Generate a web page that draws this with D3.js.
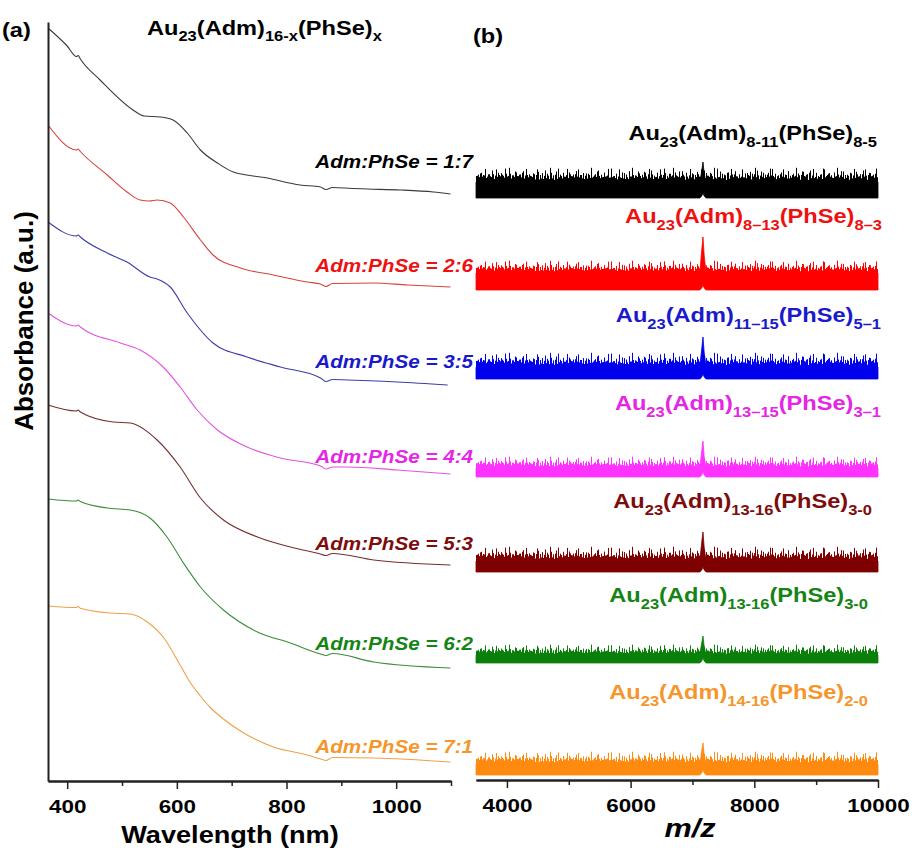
<!DOCTYPE html>
<html>
<head>
<meta charset="utf-8">
<script src="https://cdn.jsdelivr.net/npm/d3@7"></script>
<style>
body { margin: 0; background: #fff; }
text { font-family: "Liberation Sans", Arial, sans-serif; font-weight: bold; }
</style>
</head>
<body>
<div id="chart"></div>
<script>
// ---- data: UV-vis spectra (stacked absorbance, a.u.) ----
var ratioLabels = ["1:7", "2:6", "3:5", "4:4", "5:3", "6:2", "7:1"];

var uvBlack = [[365,7.53],[400,7.35],[417,7.245],[420,7.255],[424,7.22],[460,7.01],[520,6.71],[540,6.65],[570,6.64],[593,6.61],[619,6.48],[643,6.31],[674,6.18],[703,6.09],[765,6.03],[825,5.96],[862,5.94],[872,5.915],[884,5.935],[920,5.925],[948,5.92],[1008,5.91],[1068,5.89],[1099,5.87]];
var uvRed = [[365,6.56],[417,6.31],[420,6.32],[424,6.295],[473,6.06],[509,5.89],[533,5.81],[550,5.80],[564,5.81],[588,5.78],[612,5.64],[643,5.41],[666,5.26],[716,5.13],[776,5.06],[838,4.99],[862,4.97],[872,4.945],[884,4.975],[959,4.98],[1021,4.96],[1099,4.94]];
var uvBlue = [[365,5.59],[417,5.45],[420,5.46],[424,5.44],[473,5.28],[509,5.19],[551,5.04],[564,5.02],[588,4.94],[619,4.68],[666,4.38],[728,4.24],[789,4.14],[862,4.03],[872,3.995],[884,4.015],[911,4.01],[1002,3.99],[1094,3.96]];
var uvMagenta = [[365,4.68],[417,4.55],[420,4.56],[424,4.54],[497,4.38],[533,4.31],[575,4.14],[606,3.94],[637,3.71],[674,3.51],[728,3.34],[789,3.23],[862,3.15],[872,3.12],[884,3.14],[911,3.14],[1002,3.11],[1099,3.07]];
var uvMaroon = [[365,3.76],[417,3.70],[420,3.71],[424,3.69],[484,3.59],[515,3.58],[564,3.41],[606,3.14],[643,2.83],[685,2.61],[747,2.44],[807,2.34],[862,2.27],[872,2.255],[884,2.275],[959,2.21],[1099,2.16]];
var uvGreen = [[365,2.82],[417,2.80],[420,2.81],[424,2.795],[473,2.73],[515,2.71],[551,2.63],[582,2.44],[612,2.18],[643,1.94],[685,1.71],[747,1.49],[807,1.38],[862,1.27],[872,1.255],[884,1.275],[959,1.19],[1099,1.13]];
var uvOrange = [[365,1.75],[417,1.735],[420,1.745],[424,1.728],[478,1.68],[515,1.67],[546,1.59],[575,1.44],[606,1.16],[625,0.98],[643,0.85],[660,0.74],[685,0.62],[716,0.50],[776,0.34],[838,0.26],[862,0.22],[872,0.205],[884,0.235],[959,0.23],[1099,0.19]];

// ---- data: mass spectra ----
var msLabels = [
  [["Au",0],["23",1],["(Adm)",0],["8-11",1],["(PhSe)",0],["8-5",1]],
  [["Au",0],["23",1],["(Adm)",0],["8\u201313",1],["(PhSe)",0],["8\u20133",1]],
  [["Au",0],["23",1],["(Adm)",0],["11\u201315",1],["(PhSe)",0],["5\u20131",1]],
  [["Au",0],["23",1],["(Adm)",0],["13\u201315",1],["(PhSe)",0],["3\u20131",1]],
  [["Au",0],["23",1],["(Adm)",0],["13-16",1],["(PhSe)",0],["3-0",1]],
  [["Au",0],["23",1],["(Adm)",0],["13-16",1],["(PhSe)",0],["3-0",1]],
  [["Au",0],["23",1],["(Adm)",0],["14-16",1],["(PhSe)",0],["2-0",1]]
];
var titleParts = [["Au",0],["23",1],["(Adm)",0],["16-x",1],["(PhSe)",0],["x",1]];

var msMz = [3500, 7120, 7150, 7170, 7190, 7220, 10000];
var msBase = [5.82, 4.90, 4.01, 3.03, 2.08, 1.17, 0.05];
var msBottomRel = [0, 0, 0.02, 0.05, 0.02, 0, 0];
var msBlackTop = [0.16, 0.16, 0.27, 0.36, 0.24, 0.16, 0.16];
var msRedTop = [0.17, 0.18, 0.40, 0.53, 0.34, 0.17, 0.17];
var msBlueTop = [0.12, 0.13, 0.30, 0.42, 0.26, 0.12, 0.12];
var msMagentaTop = [0.09, 0.10, 0.26, 0.36, 0.20, 0.09, 0.09];
var msMaroonTop = [0.11, 0.12, 0.30, 0.40, 0.24, 0.11, 0.11];
var msGreenTop = [0.08, 0.09, 0.20, 0.27, 0.16, 0.08, 0.08];
var msOrangeTop = [0.11, 0.11, 0.24, 0.32, 0.20, 0.11, 0.11];
var msSpikeTop = [0.31, 0.30, 0.27, 0.21, 0.26, 0.19, 0.24];

var wlTicks = [400, 600, 800, 1000];
var wlMinor = [500, 700, 900, 1100];
var mzTicks = [4000, 6000, 8000, 10000];
var mzMinor = [5000, 7000, 9000];

// ---- styles ----
var uvColors = ["#3a3a3a", "#d9413b", "#3d3dab", "#e055e0", "#74302e", "#3c8c3c", "#f0a04a"];
var labelColors = ["#000000", "#ee1111", "#1a1acc", "#e526e5", "#7d0c0c", "#148414", "#f6962a"];
var msColors = ["#000000", "#ff0000", "#0000ee", "#ff33ff", "#7f0000", "#0a800a", "#ff8a10"];
var SX = 1.18; // horizontal text stretch of the original figure

// two hand-set stripe textures with different periods, overlaid to fake detector noise
var texA = [0.30,0.55,0.22,0.40,0.85,0.35,0.18,0.50,0.28,0.62,0.25,0.45,0.33,0.15,0.58,0.40,0.24,0.95,0.34,0.28,0.48,0.20,0.38,0.72,0.26,0.44,0.30,0.52,0.36,0.19,0.64,0.40,0.25,0.47,0.88,0.31,0.35,0.54,0.23,0.42,0.37];
var texB = [0.45,0.20,0.35,0.60,0.28,0.15,0.50,0.32,0.70,0.22,0.40,0.26,0.55,0.18,0.34,0.78,0.30,0.24,0.46,0.20,0.38,0.64,0.27,0.42,0.16,0.52,0.33,0.25,0.90,0.36,0.22,0.44,0.29,0.58,0.21,0.39,0.48,0.17,0.31,0.66,0.26,0.43,0.19,0.53,0.35,0.24,0.74,0.28,0.41,0.20,0.50,0.32,0.27];

var W = 915, H = 852;
var svg = d3.select("#chart").append("svg").attr("width", W).attr("height", H);
var defs = svg.append("defs");

function addText(g, x, y, anchor, size) {
  return g.append("text")
    .attr("transform", "translate(" + x + "," + y + ") scale(" + SX + ",1)")
    .attr("text-anchor", anchor)
    .style("font-size", size + "px");
}

function addFormula(g, parts, x, y, anchor, color, big, small, shift) {
  var t = addText(g, x, y, anchor, big).attr("fill", color);
  var cur = 0;
  parts.forEach(function (p) {
    var target = p[1] ? shift : 0;
    t.append("tspan").text(p[0])
      .attr("dy", target - cur)
      .style("font-size", (p[1] ? small : big) + "px");
    cur = target;
  });
  return t;
}

function styleAxis(g) {
  g.select(".domain").attr("stroke", "#222").attr("stroke-width", 2);
  g.selectAll(".tick line").attr("stroke", "#222").attr("stroke-width", 1.5);
}

function styleTickText(g) {
  g.selectAll(".tick text").attr("y", 0).attr("dy", 0)
    .attr("transform", "translate(0,32) scale(" + SX + ",1)")
    .attr("fill", "#000").style("font-size", "19px")
    .style("font-family", "'Liberation Sans', Arial, sans-serif").style("font-weight", "bold");
}

// ================= panel (a) =================
var x1 = d3.scaleLinear().domain([365, 1100]).range([48, 451]);
var y1 = d3.scaleLinear().domain([0, 7.59]).range([781, 22]);

var gA = svg.append("g");
var uvData = [uvBlack, uvRed, uvBlue, uvMagenta, uvMaroon, uvGreen, uvOrange];
var line = d3.line().x(function (d) { return x1(d[0]); }).y(function (d) { return y1(d[1]); })
  .curve(d3.curveMonotoneX);

uvData.forEach(function (s, i) {
  gA.append("path").datum(s).attr("d", line)
    .attr("fill", "none").attr("stroke", uvColors[i]).attr("stroke-width", 1.1);
});

var ratioLabelY = [168, 272, 368, 463, 550, 650, 753];
ratioLabels.forEach(function (r, i) {
  addText(gA, 473, ratioLabelY[i], "end", 17.5)
    .attr("fill", labelColors[i]).style("font-style", "italic")
    .text("Adm:PhSe = " + r);
});

var axA = gA.append("g").attr("transform", "translate(0,781)")
  .call(d3.axisBottom(x1).tickValues(wlTicks).tickSize(8).tickSizeOuter(0).tickFormat(d3.format("d")));
gA.append("g").attr("transform", "translate(0,781)")
  .call(d3.axisBottom(x1).tickValues(wlMinor).tickSize(5).tickSizeOuter(0).tickFormat(""))
  .call(styleAxis);
styleAxis(axA);
styleTickText(axA);

var ayA = gA.append("g").attr("transform", "translate(48,0)")
  .call(d3.axisLeft(y1).ticks(0).tickSizeOuter(0));
styleAxis(ayA);

addText(gA, 230, 843, "middle", 23).attr("fill", "#000").text("Wavelength (nm)");
gA.append("text").attr("transform", "translate(33,321) rotate(-90)")
  .attr("text-anchor", "middle").style("font-size", "26px").attr("fill", "#000")
  .text("Absorbance (a.u.)");
addText(gA, 2, 37, "start", 20).attr("fill", "#000").text("(a)");
addFormula(gA, titleParts, 147, 35, "start", "#000", 20, 14, 6);

// ================= panel (b) =================
var x2 = d3.scaleLinear().domain([3500, 10000]).range([476, 878]);
var y2 = d3.scaleLinear().domain([0, 7.6]).range([780, 20]);
var gB = svg.append("g");

function makePattern(id, tex, color, y, h) {
  var pat = defs.append("pattern").attr("id", id)
    .attr("patternUnits", "userSpaceOnUse")
    .attr("x", 0).attr("y", y).attr("width", tex.length).attr("height", h);
  tex.forEach(function (v, k) {
    pat.append("rect").attr("x", k).attr("width", 1)
      .attr("y", h - v * h).attr("height", v * h).attr("fill", color);
  });
}

var msTops = [msBlackTop, msRedTop, msBlueTop, msMagentaTop, msMaroonTop, msGreenTop, msOrangeTop];
msTops.forEach(function (tops, i) {
  var base = msBase[i];
  var solidTop = y2(base + tops[0]);
  var spikeY = y2(base + msSpikeTop[i]);
  var zh = solidTop - spikeY + 1;
  makePattern("spkA" + i, texA, msColors[i], spikeY, zh);
  makePattern("spkB" + i, texB, msColors[i], spikeY, zh);
  ["spkA", "spkB"].forEach(function (p) {
    gB.append("rect").attr("x", x2(3500)).attr("width", x2(10000) - x2(3500))
      .attr("y", spikeY).attr("height", zh).attr("fill", "url(#" + p + i + ")");
  });

  var pts = msMz.map(function (m, k) { return [m, base + msBottomRel[k], base + tops[k]]; });
  var area = d3.area().x(function (d) { return x2(d[0]); })
    .y0(function (d) { return y2(d[1]); }).y1(function (d) { return y2(d[2]); });
  gB.append("path").datum(pts).attr("d", area).attr("fill", msColors[i])
    .attr("stroke", msColors[i]).attr("stroke-width", 0.8);

  addFormula(gB, msLabels[i], [877, 882, 881, 881, 872, 868, 868][i],
    [140, 223, 322, 410, 508, 602, 699][i], "end", labelColors[i], 20, 14, 7);
});

var axB = gB.append("g").attr("transform", "translate(0,780)")
  .call(d3.axisBottom(x2).tickValues(mzTicks).tickSize(8).tickSizeOuter(0).tickFormat(d3.format("d")));
gB.append("g").attr("transform", "translate(0,780)")
  .call(d3.axisBottom(x2).tickValues(mzMinor).tickSize(5).tickSizeOuter(0).tickFormat(""))
  .call(styleAxis);
styleAxis(axB);
styleTickText(axB);

addText(gB, 690, 837, "middle", 26).attr("fill", "#000").style("font-style", "italic").text("m/z");
addText(gB, 473, 43, "start", 20).attr("fill", "#000").text("(b)");
</script>
</body>
</html>
